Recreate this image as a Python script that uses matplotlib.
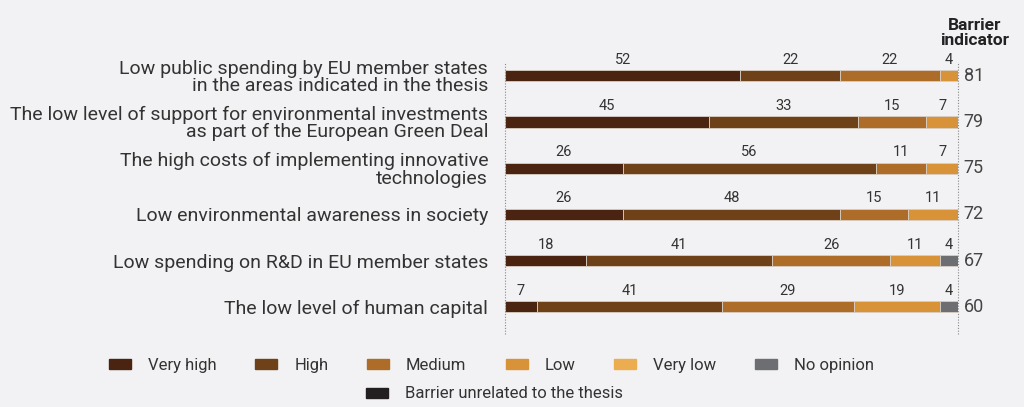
import numpy as np
import matplotlib.pyplot as plt
from matplotlib.patches import Patch

plt.rcParams['font.family'] = ['Roboto', 'DejaVu Sans']

categories = [
    'Low public spending by EU member states\nin the areas indicated in the thesis',
    'The low level of support for environmental investments\nas part of the European Green Deal',
    'The high costs of implementing innovative\ntechnologies',
    'Low environmental awareness in society',
    'Low spending on R&D in EU member states',
    'The low level of human capital',
]
very_high = [52, 45, 26, 26, 18, 7]
high = [22, 33, 56, 48, 41, 41]
medium = [22, 15, 11, 15, 26, 29]
low = [4, 7, 7, 11, 11, 19]
very_low = [0, 0, 0, 0, 0, 0]
no_opinion = [0, 0, 0, 0, 4, 4]
unrelated = [0, 0, 0, 0, 0, 0]
indicator = [81, 79, 75, 72, 67, 60]

series = [
    ('Very high', very_high, '#4a2410'),
    ('High', high, '#6e4118'),
    ('Medium', medium, '#ad6c28'),
    ('Low', low, '#d89338'),
    ('Very low', very_low, '#ecad50'),
    ('No opinion', no_opinion, '#6d6e72'),
]
bg = '#f2f2f4'

fig = plt.figure(figsize=(10.24, 4.07), dpi=100, facecolor=bg)
ax = fig.add_axes([0.493, 0.18, 0.4425, 0.668], facecolor=bg)

y = np.arange(len(categories))
left = np.zeros(len(categories))
for name, vals, col in series:
    vals = np.array(vals, dtype=float)
    ax.barh(y, vals, left=left, height=0.24, color=col,
            edgecolor='#d8cfc4', linewidth=0.6)
    for i, v in enumerate(vals):
        if v > 0:
            ax.annotate(f'{v:.0f}', (left[i] + v / 2, y[i] - 0.12),
                        xytext=(0, 2.5), textcoords='offset points',
                        ha='center', va='bottom', fontsize=10.5, color='#333333')
    left += vals

for i, v in enumerate(indicator):
    ax.annotate(str(v), (100, y[i]), xytext=(4, 0), textcoords='offset points',
                ha='left', va='center', fontsize=13, color='#444444')

for xv in (0, 100):
    ax.axvline(xv, color='#888888', linestyle=(0, (1, 1.5)), linewidth=0.8,
               clip_on=False)

ax.set_xlim(0, 100)
ax.set_ylim(5.58, -0.30)
ax.set_yticks(y)
ax.set_yticklabels(categories, fontsize=14, color='#333333', linespacing=0.95)
ax.tick_params(axis='y', length=0, pad=12)
ax.set_xticks([])
for s in ax.spines.values():
    s.set_visible(False)

fig.text(0.952, 0.955, 'Barrier\nindicator', ha='center', va='top',
         fontsize=12.5, fontweight='bold', color='#222222', linespacing=0.95)

handles1 = [Patch(color=c) for _, _, c in series]
labels1 = [n for n, _, _ in series]
fig.legend(handles1, labels1, loc='center', bbox_to_anchor=(0.480, 0.103), ncol=6,
           frameon=False, fontsize=12, handlelength=1.32, handleheight=0.55,
           handletextpad=1.0, columnspacing=2.35, labelcolor='#333333')
fig.legend([Patch(color='#231f20')], ['Barrier unrelated to the thesis'],
           loc='center', bbox_to_anchor=(0.483, 0.032), frameon=False, fontsize=12,
           handlelength=1.32, handleheight=0.55, handletextpad=1.0,
           labelcolor='#333333')

fig.savefig('out.png', dpi=100, facecolor=bg)
